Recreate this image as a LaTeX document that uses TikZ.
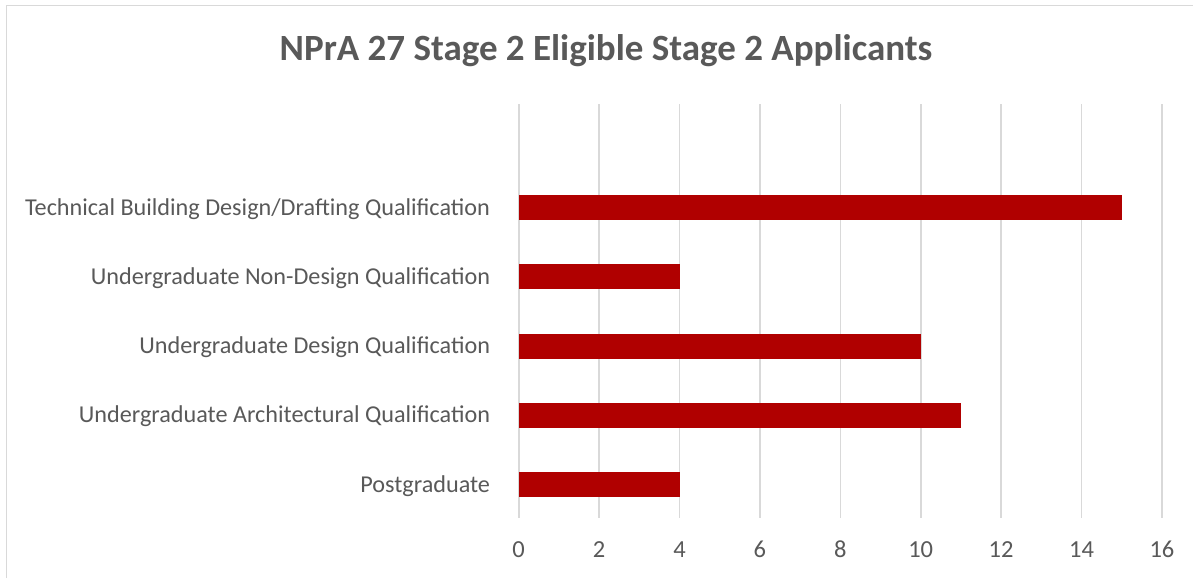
\documentclass[tikz,border=0pt]{standalone}
\usepackage{fontspec}
\setmainfont{Carlito}
\usepackage{tikz}
\usetikzlibrary{positioning}

\definecolor{barred}{RGB}{176,0,0}
\definecolor{txtgrey}{RGB}{89,89,89}
\definecolor{gridgrey}{RGB}{217,217,217}

\begin{document}
\begin{tikzpicture}[x=1pt, y=-1pt,
		bar/.style={fill=barred, draw=none, inner sep=0pt, minimum height=25pt, anchor=west},
		cat/.style={text=txtgrey, inner sep=0pt, font=\fontsize{24.2}{28}\selectfont},
		tick/.style={text=txtgrey, inner sep=0pt, font=\fontsize{24.5}{28}\selectfont},
		grid/.style={draw=gridgrey, line width=1.6pt}]
				\useasboundingbox (0,0) rectangle (1193,578);
				\fill[white] (0,0) rectangle (1193,578);
				% chart frame
				\draw[grid] (6.5,578) -- (6.5,5.5) -- (1193,5.5);
				
				\node[text=txtgrey, font=\bfseries\fontsize{37}{42}\selectfont, anchor=base] (title) at (606,60) {NPrA 27 Stage 2 Eligible Stage 2 Applicants};
				
				% vertical grid and tick labels
				\foreach \v in {0,2,...,16} {
					\draw[grid] (518.7+40.2*\v,104) -- (518.7+40.2*\v,518);
					\node[tick] (t\v) at (518.7+40.2*\v,549.5) {\v};
				}
				
				% bars
				\node[bar, minimum width=15*40.2pt] (b1) at (518.7,207.5) {};
				\node[bar, minimum width=4*40.2pt] (b2) at (518.7,276.75) {};
				\node[bar, minimum width=10*40.2pt] (b3) at (518.7,346) {};
				\node[bar, minimum width=11*40.2pt] (b4) at (518.7,415.25) {};
				\node[bar, minimum width=4*40.2pt] (b5) at (518.7,484.5) {};
				
				\node[cat, left=28.5pt of b1.west, anchor=base east, yshift=-7.5pt] (c1) {Technical Building Design/Drafting Qualification};
				\node[cat, left=28.5pt of b2.west, anchor=base east, yshift=-7.5pt] (c2) {Undergraduate Non-Design Qualification};
				\node[cat, left=28.5pt of b3.west, anchor=base east, yshift=-7.5pt] (c3) {Undergraduate Design Qualification};
				\node[cat, left=28.5pt of b4.west, anchor=base east, yshift=-7.5pt] (c4) {Undergraduate Architectural Qualification};
				\node[cat, left=28.5pt of b5.west, anchor=base east, yshift=-7.5pt] (c5) {Postgraduate};
\end{tikzpicture}
\end{document}
